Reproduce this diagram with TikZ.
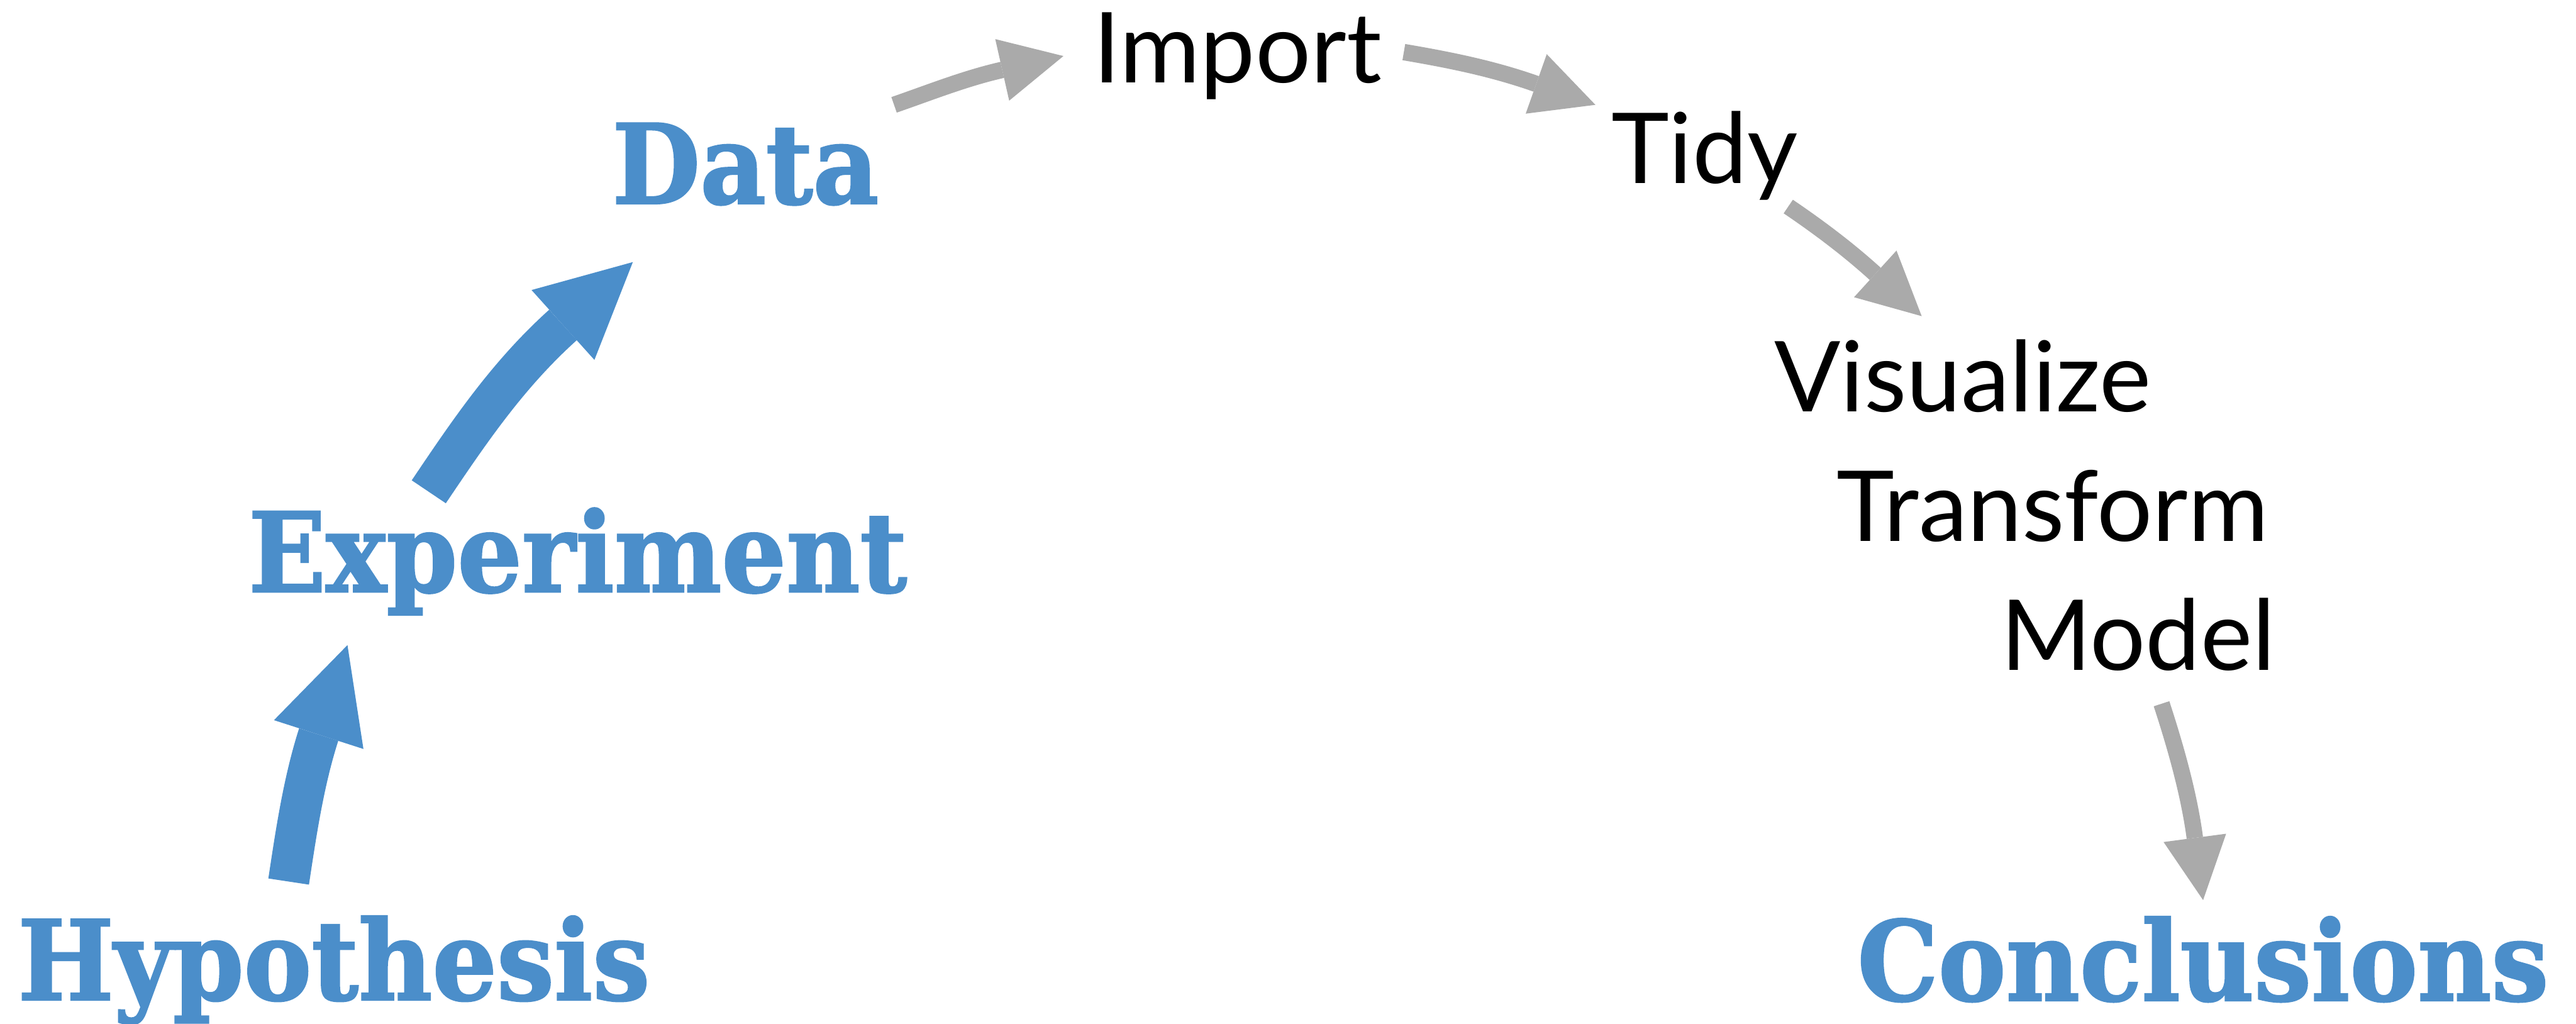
\documentclass[tikz,border=0pt]{standalone}
\usepackage{fontspec}
\newfontfamily\slabfont{DejaVu Serif}[BoldFeatures={FakeBold=1.6}]
\newfontfamily\toolfont{Lato}
\usetikzlibrary{arrows.meta,calc}
\definecolor{goalblue}{RGB}{75,142,202}
\definecolor{toolgrey}{RGB}{170,170,170}
\tikzset{
  goal/.style={anchor=base west, inner sep=0pt, text=goalblue, xscale=0.92,
    font=\slabfont\bfseries\fontsize{33.6}{40}\selectfont},
  tool/.style={anchor=base west, inner sep=0pt,
    font=\toolfont\fontsize{29.8}{35}\selectfont},
  bigarrow/.style={draw=goalblue, line width=12.5pt,
    -{Triangle[length=28.6pt,width=28.6pt,line width=0pt]}},
  smallarrow/.style={draw=toolgrey, line width=5pt,
    -{Triangle[length=19.1pt,width=19.2pt,line width=0pt]}},
}
\begin{document}
\begin{tikzpicture}[x=0.5pt,y=0.5pt,yscale=-1,xscale=1]
\useasboundingbox (0,0) rectangle (1568,623.2);

% Text Node
\draw (10.5,608.5) node (hyp) [goal] {Hypothesis};
% Text Node
\draw (150.9,360.2) node (exper) [goal] {Experiment};
% Text Node
\draw (372.2,123.9) node (data) [goal] {Data};
% Text Node
\draw (665,50.5) node (import) [tool] {Import};
% Text Node
\draw (980.4,111.7) node (tidy) [tool] {Tidy};
% Text Node
\draw (1079.6,250.5) node (visual) [tool] {Visualize};
% Text Node
\draw (1117.6,329.3) node (transf) [tool] {Transform};
% Text Node
\draw (1217.4,408) node (model) [tool] {Model};
% Text Node
\draw (1130.2,608.9) node (concl) [goal] {Conclusions};

%Curve Lines
\draw [bigarrow] ($(hyp.base west)+(165.2,-72)$) .. controls +(4.5,-29.7) and +(-26.7,83) .. ($(exper.base west)+(60.6,32.4)$);
%Curve Lines
\draw [bigarrow] ($(exper.base west)+(110.1,-60.9)$) .. controls +(25.1,-37.3) and +(-76,68.4) .. ($(data.base west)+(13,35.6)$);
%Curve Lines
\draw [smallarrow] ($(data.base west)+(172,-60.1)$) .. controls +(21.7,-7.5) and +(-59.7,13.5) .. ($(import.base west)+(-17.7,-16.4)$);
%Curve Lines
\draw [smallarrow] ($(import.base west)+(189.5,-18.8)$) .. controls +(27.6,4.7) and +(-62.5,-22.1) .. ($(tidy.base west)+(-9.3,-47.9)$);
%Curve Lines
\draw [smallarrow] ($(tidy.base west)+(108.1,14)$) .. controls +(18.2,12.3) and +(-44.5,-40.5) .. ($(visual.base west)+(90.1,-58.1)$);
%Curve Lines
\draw [smallarrow] ($(model.base west)+(98.3,20.3)$) .. controls +(8.7,26.6) and +(-8.5,-64.1) .. ($(concl.base west)+(210.8,-61.1)$);

\end{tikzpicture}
\end{document}
